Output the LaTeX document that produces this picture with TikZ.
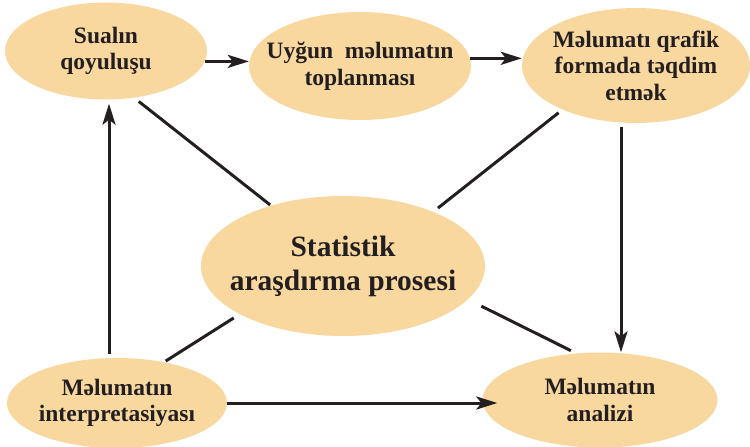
\documentclass[tikz,border=0pt]{standalone}
\usepackage{fontspec}
\setmainfont{Liberation Serif}
\usetikzlibrary{shapes.geometric,arrows.meta}

\definecolor{stagefill}{HTML}{F9D8A0}
\definecolor{inkdark}{HTML}{231F20}

\tikzset{
	stage/.style={ellipse, fill=stagefill, inner sep=-15pt, align=center, text=inkdark,
		font=\fontsize{23.5}{26.5}\selectfont\bfseries},
	flow/.style={line width=3pt, draw=inkdark, -{Stealth[length=21pt,width=13pt,inset=5pt]}},
	link/.style={line width=3pt, draw=inkdark},
}

\begin{document}
\begin{tikzpicture}[x=1pt,y=-1pt]
			%%%%% START %%%%%
			
			\useasboundingbox (0,0) rectangle (750,447);
			
			\node[stage, minimum width=202pt, minimum height=97pt] (sual) at (106,51) {Sualın\\qoyuluşu};
			\node[stage, minimum width=222pt, minimum height=108pt] (toplan) at (360,66) {Uyğun\ \ məlumatın\\toplanması};
			\node[stage, minimum width=228pt, minimum height=115pt] (qrafik) at (636,65.5) {Məlumatı qrafik\\formada təqdim\\etmək};
			
			\node[stage, minimum width=284pt, minimum height=140pt, font=\fontsize{29.5}{34}\selectfont\bfseries] (stat) at (343,266) {Statistik\\araşdırma prosesi};
			
			\node[stage, minimum width=220pt, minimum height=90pt] (interp) at (117,403) {Məlumatın\\interpretasiyası};
			\node[stage, minimum width=235pt, minimum height=95pt] (ana) at (600,400) {Məlumatın\\analizi};
			
			\draw[flow] (sual.-6) -- (sual.-6 -| toplan.west);
			\draw[flow] (toplan.4) -- (toplan.4 -| qrafik.west);
			\draw[flow, shorten <=4pt] ([xshift=-15pt]qrafik.south) -- ([xshift=21pt]ana.north);
			\draw[flow] (interp.east) -- ([xshift=15pt]ana.west |- interp.east);
			\draw[flow, shorten <=4pt, shorten >=4pt] ([xshift=-8pt]interp.north) -- ([xshift=-8pt]interp.north |- sual.south);
			
			\draw[link, shorten <=6pt, shorten >=1pt] (sual.-59) -- (stat.140);
			\draw[link, shorten <=5pt, shorten >=6pt] (qrafik.-149) -- (stat.31);
			\draw[link, shorten <=7pt, shorten >=2pt] (stat.205) -- (interp.41);
			\draw[link, shorten <=15pt, shorten >=6pt] (stat.-15) -- (ana.117);
			
			%%%%% END %%%%%
		\end{tikzpicture}
\end{document}
